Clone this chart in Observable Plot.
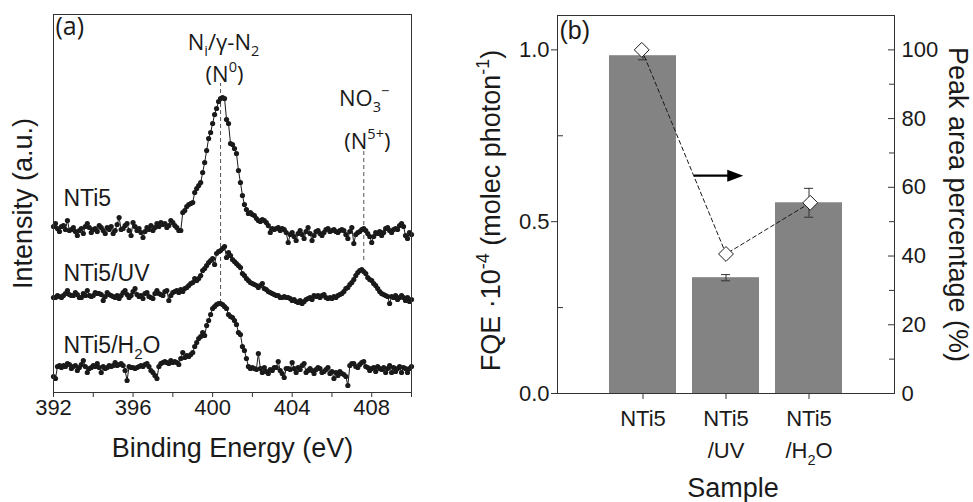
<!DOCTYPE html>
<html><head><meta charset="utf-8">
<script src="https://cdn.jsdelivr.net/npm/d3@7"></script>
<script src="https://cdn.jsdelivr.net/npm/@observablehq/plot@0.6"></script>
<style>
body{margin:0;background:#fff;}
#wrap{position:relative;width:973px;height:502px;overflow:hidden;background:#fff;}
#wrap svg{position:absolute;top:0;background:transparent !important;font-family:'Liberation Sans', Arial, Helvetica, sans-serif !important;}
</style></head><body><div id="wrap"></div>
<script>
// ---------- Panel (a): XPS N 1s spectra ----------
const energyStart = 392, energyStep = 0.1;   // eV, scan grid
const energyTicks = [392, 396, 400, 404, 408];
const energyMinorTicks = [394, 398, 402, 406, 410];
const seriesNames = ["NTi5", "NTi5/UV", "NTi5/H_{2}O"];
const seriesOffsets = [164, 95, 24];          // vertical stacking offset (a.u.)
const nti5 = [
  2,5,0,-3,2,3,-1,8,-2,-1, 1,-3,-7,-2,0,-5,2,5,1,-4, -1,0,-3,3,1,-2,-5,1,-1,2,
  -5,-2,4,11,-1,0,3,5,-2,-7, 6,2,-2,0,-4,-9,-3,1,-1,3, -2,1,5,2,6,4,5,1,3,8,
  6,3,1,-2,-2,16,18,22,24,25, 26,36,40,43,46,56,66,78,90,96, 105,114,120,127,130,131,130,109,105,85,
  84,80,75,58,46,33,24,19,15,16, 14,13,10,8,7,9,8,6,3,-4, 0,-1,0,1,-2,0,-1,-4,-14,-6,
  -4,-8,-12,-5,-2,-6,-10,-3,1,-5, -12,-7,-3,-2,-5,-7,-4,-1,0,-3, -2,-1,-3,-4,-2,-1,-2,-6,-10,-3,
  1,-15,-6,-4,-3,-1,0,-2,-5,-8, -14,-8,-4,-5,-3,-7,-4,0,1,-2, -4,-1,0,-1,3,5,2,-7,-10,-4,
  -6];
const nti5UV = [
  0,0,2,1,0,2,4,7,3,2, 2,5,3,0,0,4,2,7,2,1, 2,5,4,4,3,-3,1,5,3,2,
  1,0,2,-1,2,5,7,3,0,2, 6,9,3,1,2,-1,4,5,1,0, -1,4,7,4,3,2,6,7,-3,2,
  5,6,7,5,8,6,9,10,12,14, 15,19,17,19,22,27,29,32,35,37, 39,33,44,46,47,49,51,40,45,42,
  38,36,34,32,30,24,22,19,17,15, 14,13,12,10,12,14,9,8,6,5, 4,3,2,2,0,0,1,0,0,-1,
  -3,-2,-4,-5,-3,-6,-4,-2,-1,0, -2,2,1,2,0,2,3,0,-1,0, -1,1,0,2,3,4,6,9,10,13,
  15,18,22,25,27,28,26,24,20,18, 17,14,12,9,6,4,3,2,1,-6, 1,0,2,-2,0,2,0,-3,0,-4,
  -2];
const nti5H2O = [
  -8,-10,2,3,1,3,2,5,4,0, 2,3,-2,1,4,8,2,-4,0,1, 3,2,5,1,-4,2,0,1,3,2,
  3,6,3,4,5,3,-2,-12,2,1, 1,0,1,2,3,2,4,5,2,-2, -4,-7,-10,2,5,6,7,6,5,8,
  6,7,6,4,10,16,11,13,12,14, 16,22,26,30,32,36,33,43,48,54, 60,62,64,65,65,64,62,60,54,52,
  51,48,44,36,34,22,18,10,2,0, 1,0,-1,15,0,-4,1,-3,-5,-1, -2,1,1,7,-2,-5,-9,0,0,-1,
  6,0,-4,1,-1,3,5,-4,-2,0, -2,-5,-1,1,0,-4,-3,-1,1,-5, -3,-10,-4,-7,-3,-5,-6,-8,-17,3,
  5,5,2,1,4,6,7,2,1,-2, 0,1,-3,2,0,-1,1,-4,0,3, -4,1,-3,0,2,-4,1,0,-4,0,
  2];
const seriesLabelEnergy = 392.5;
const seriesLabelHeights = [187, 112, 40];
const peakNames = ["N_{i}/γ-N_{2}", "(N^{0})", "NO_{3}^{−}", "(N^{5+})"];
const peakNameEnergy = [400.55, 400.6, 407.62, 407.78];
const peakNameHeights = [343, 311, 287, 244];
const peakLineEnergy = [400.4, 407.6];
const peakLineTop = [309, 242];
const peakLineBottom = [89, 132];

// ---------- Panel (b): FQE bars + peak area ----------
const samples = ["NTi5", "NTi5/UV", "NTi5/H2O"];
const sampleLine1 = ["NTi5", "NTi5", "NTi5"];
const sampleLine2 = ["", "/UV", "/H_{2}O"];
const samplePosition = [1, 2, 3];
const fqe = [0.983, 0.337, 0.555];
const fqeErr = [0.012, 0.009, 0.042];
const peakArea = [100, 40.6, 55.5];
const fqeTicks = [0, 0.5, 1.0];
const fqeMinorTicks = [0.25, 0.75];
const pctTicks = [0, 20, 40, 60, 80, 100];
const pctMinorTicks = [10, 30, 50, 70, 90];
const arrowStartX = 1.62, arrowEndX = 2.03, arrowHeadX = 2.11, arrowY = 63.4;

// ---------- helpers ----------
const SANS = "'Liberation Sans', Arial, Helvetica, sans-serif";
const OPEN = "'Open Sans', 'DejaVu Sans', sans-serif";
const INK = "#1a1a1a", AXIS = "#333";

function richify(svg) {
  svg.querySelectorAll("text").forEach(t => {
    const s = t.textContent;
    if (!/[_^]\{/.test(s)) return;
    const fs = parseFloat(getComputedStyle(t).fontSize) || 22;
    while (t.firstChild) t.removeChild(t.firstChild);
    const re = /([_^])\{([^}]*)\}|([^_^]+)/g;
    let m, cur = 0;
    while ((m = re.exec(s))) {
      const ts = document.createElementNS("http://www.w3.org/2000/svg", "tspan");
      let target, txt, size = null;
      if (m[3] !== undefined) { target = 0; txt = m[3]; }
      else { target = m[1] === "_" ? 0.3 * fs : -0.42 * fs; txt = m[2]; size = 0.66 * fs; }
      const dy = target - cur;
      if (dy) ts.setAttribute("dy", dy);
      if (size) ts.setAttribute("font-size", size);
      ts.textContent = txt;
      t.appendChild(ts);
      cur = target;
    }
  });
}

const wrap = document.getElementById("wrap");
const style = {fontFamily: SANS, fontSize: "22px", color: INK, background: "transparent", overflow: "visible"};

// ---------- build panel (a) ----------
const allSeries = [nti5, nti5UV, nti5H2O];
const rows = allSeries.flatMap((arr, k) => arr.map((v, i) => ({
  series: seriesNames[k], e: energyStart + i * energyStep, v: seriesOffsets[k] + v
})));
const seriesLabels = seriesNames.map((s, k) => ({s, e: seriesLabelEnergy, h: seriesLabelHeights[k]}));
const peakLabels = peakNames.map((s, k) => ({s, e: peakNameEnergy[k], h: peakNameHeights[k]}));
const peakLines = peakLineEnergy.map((e, k) => ({e, y1: peakLineBottom[k], y2: peakLineTop[k]}));

const pa = Plot.plot({
  width: 440, height: 502, marginLeft: 53, marginRight: 29, marginTop: 14, marginBottom: 110,
  style,
  x: {domain: [392, 410], label: null},
  y: {domain: [0, 378], axis: null, label: null},
  marks: [
    Plot.ruleX(peakLines, {x: "e", y1: "y1", y2: "y2", stroke: "#555", strokeWidth: 1, strokeDasharray: "4,3"}),
    Plot.line(rows, {x: "e", y: "v", z: "series", stroke: INK, strokeWidth: 1}),
    Plot.dot(rows, {x: "e", y: "v", r: 2.6, fill: INK, stroke: "none"}),
    Plot.text(seriesLabels, {x: "e", y: "h", text: "s", textAnchor: "start", lineAnchor: "bottom", fontSize: 23, fontFamily: SANS, fill: INK}),
    Plot.text(peakLabels, {x: "e", y: "h", text: "s", lineAnchor: "bottom", fontSize: 22, fontFamily: OPEN, fill: INK}),
    Plot.axisX(energyTicks, {tickSize: 5, tickPadding: 2, fontSize: 22, label: null, stroke: AXIS}),
    Plot.axisX(energyMinorTicks, {tickSize: 5, tickFormat: () => "", label: null, stroke: AXIS}),
    Plot.text(["Binding Energy (eV)"], {frameAnchor: "bottom", lineAnchor: "top", dy: 45, fontSize: 27, fill: INK}),
    Plot.text(["Intensity (a.u.)"], {frameAnchor: "left", textAnchor: "middle", rotate: -90, dx: -30, fontSize: 27, fill: INK}),
    Plot.text(["(a)"], {frameAnchor: "top-left", textAnchor: "start", lineAnchor: "top", dx: 2, dy: 3, fontSize: 25, fontFamily: OPEN, fill: INK}),
    Plot.frame({stroke: AXIS, strokeWidth: 1})
  ]
});
pa.style.left = "0px";
wrap.appendChild(pa);

// ---------- build panel (b) ----------
const bars = samples.map((s, i) => ({s, v: fqe[i], e: fqeErr[i], l1: sampleLine1[i], l2: sampleLine2[i]}));
const pb1 = Plot.plot({
  width: 533, height: 502, marginLeft: 117, marginRight: 79, marginTop: 15, marginBottom: 109,
  style,
  x: {type: "band", domain: samples, paddingInner: 0.19, paddingOuter: 0.601, label: null},
  y: {domain: [0, 1.1], label: null},
  marks: [
    Plot.barY(bars, {x: "s", y: "v", fill: "#838383"}),
    Plot.ruleX(bars, {x: "s", y1: d => d.v - d.e, y2: d => d.v + d.e, stroke: AXIS, strokeWidth: 1}),
    Plot.tickY(bars, {x: "s", y: d => d.v - d.e, insetLeft: 29, insetRight: 29, stroke: AXIS}),
    Plot.tickY(bars, {x: "s", y: d => d.v + d.e, insetLeft: 29, insetRight: 29, stroke: AXIS}),
    Plot.axisY(fqeTicks, {tickSize: 6, tickPadding: 2, tickFormat: d3.format(".1f"), fontSize: 22, label: null, stroke: AXIS}),
    Plot.tickY(fqeMinorTicks, {y: d => d, insetRight: 331, stroke: AXIS}),
    Plot.axisX({tickSize: 6, tickFormat: () => "", label: null, stroke: AXIS}),
    Plot.text(bars, {x: "s", text: "l1", frameAnchor: "bottom", lineAnchor: "top", dy: 17, fontSize: 22, fill: INK}),
    Plot.text(bars, {x: "s", text: "l2", frameAnchor: "bottom", lineAnchor: "top", dy: 49, fontSize: 22, fill: INK}),
    Plot.text(["Sample"], {frameAnchor: "bottom", lineAnchor: "top", dy: 84, dx: 7, fontSize: 27, fill: INK}),
    Plot.text(["FQE ·10^{-4} (molec photon^{-1})"], {frameAnchor: "left", textAnchor: "middle", rotate: -90, dx: -66, dy: 6, fontSize: 27, fill: INK}),
    Plot.text(["(b)"], {frameAnchor: "top-left", textAnchor: "start", lineAnchor: "top", dx: 2, dy: 6, fontSize: 25, fill: INK}),
    Plot.frame({stroke: AXIS, strokeWidth: 1})
  ]
});
pb1.style.left = "440px";
wrap.appendChild(pb1);

const pts = samples.map((s, i) => ({pos: samplePosition[i], p: peakArea[i]}));
const headSymbol = {
  draw(context, size) {
    const r = Math.sqrt(size / Math.PI);
    context.moveTo(r, 0);
    context.lineTo(-r, -0.75 * r);
    context.lineTo(-r, 0.75 * r);
    context.closePath();
  }
};
const pb2 = Plot.plot({
  width: 533, height: 502, marginLeft: 117, marginRight: 79, marginTop: 15, marginBottom: 109,
  style,
  x: {domain: [0, 4], axis: null, label: null},
  y: {domain: [0, 110], label: null},
  marks: [
    Plot.line(pts, {x: "pos", y: "p", stroke: INK, strokeWidth: 1, strokeDasharray: "4,3"}),
    Plot.dot(pts, {x: "pos", y: "p", symbol: "diamond2", r: 6.7, fill: "white", stroke: INK, strokeWidth: 1}),
    Plot.link([{x1: arrowStartX, x2: arrowEndX, y: arrowY}], {x1: "x1", x2: "x2", y1: "y", y2: "y", stroke: "#000", strokeWidth: 2.4}),
    Plot.dot([{x: arrowHeadX, y: arrowY}], {x: "x", y: "y", symbol: headSymbol, r: 8, fill: "#000", stroke: "none"}),
    Plot.tickY(pctTicks, {y: d => d, insetLeft: 331, stroke: AXIS}),
    Plot.tickY(pctMinorTicks, {y: d => d, insetLeft: 332, stroke: AXIS}),
    Plot.axisY(pctTicks, {anchor: "right", tickSize: 0, tickPadding: 7, fontSize: 22, label: null}),
    Plot.text(["Peak area percentage (%)"], {frameAnchor: "right", textAnchor: "middle", rotate: 90, dx: 63, fontSize: 27, fill: INK})
  ]
});
pb2.style.left = "440px";
wrap.appendChild(pb2);

[pa, pb1, pb2].forEach(richify);
</script>
</body></html>
